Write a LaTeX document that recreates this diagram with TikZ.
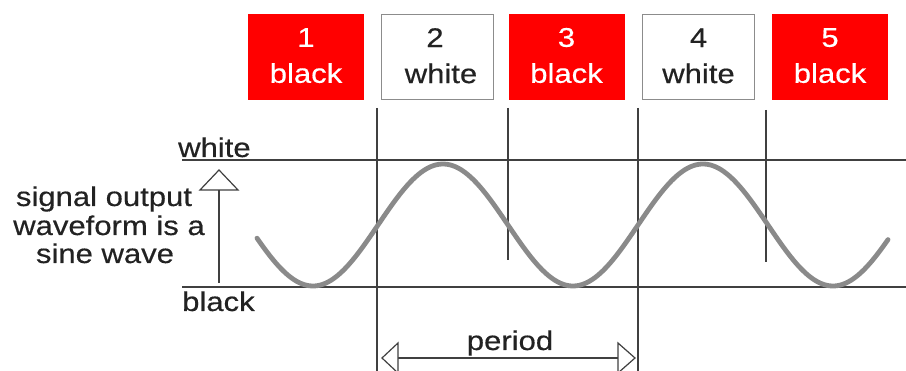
\documentclass[tikz,border=0pt]{standalone}
\usepackage{fontspec}
\setmainfont{Liberation Sans}[FakeStretch=1.15,FakeBold=0.4]
\definecolor{txt}{HTML}{222222}
\definecolor{boxred}{HTML}{FF0000}
\definecolor{wavegray}{HTML}{8A8A8A}
\begin{document}
\begin{tikzpicture}[x=1pt,y=-1pt,
  lbl/.style={inner sep=0pt,font=\fontsize{27}{32}\selectfont,text=txt},
  redbox/.style={draw=none,fill=boxred,minimum width=116pt,minimum height=86pt,inner sep=0pt},
  whitebox/.style={draw=black!45,line width=0.9pt,fill=white,minimum width=112pt,minimum height=85pt,inner sep=0pt},
  rlbl/.style={lbl,text=white,anchor=base},
  wlbl/.style={lbl,anchor=base},
  thin/.style={draw=black!75,line width=1.2pt},
  wave/.style={draw=wavegray,line width=4.8pt,line cap=round},
  openhead/.style={draw=black!75,line width=1.2pt,fill=white,line join=miter}
]
\useasboundingbox (0,0) rectangle (906,371);

% boxes
\node[redbox] (b1) at (306,57) {};
\node[whitebox] (b2) at (437,57) {};
\node[redbox] (b3) at (566.5,57) {};
\node[whitebox] (b4) at (698.5,57) {};
\node[redbox] (b5) at (830,57) {};

\node[rlbl] (b1n) at ([yshift=-33pt]b1.north) {1};
\node[rlbl] (b1w) at ([yshift=-69pt]b1.north) {black};
\node[wlbl] (b2n) at ([yshift=-33pt,xshift=-2pt]b2.north) {2};
\node[wlbl] (b2w) at ([yshift=-69pt,xshift=4pt]b2.north) {white};
\node[rlbl] (b3n) at ([yshift=-33pt]b3.north) {3};
\node[rlbl] (b3w) at ([yshift=-69pt]b3.north) {black};
\node[wlbl] (b4n) at ([yshift=-33pt]b4.north) {4};
\node[wlbl] (b4w) at ([yshift=-69pt]b4.north) {white};
\node[rlbl] (b5n) at ([yshift=-33pt]b5.north) {5};
\node[rlbl] (b5w) at ([yshift=-69pt]b5.north) {black};

% level lines
\coordinate (wl) at (182,160); \coordinate (wr) at (906,160);
\coordinate (kl) at (182,287); \coordinate (kr) at (906,287);
\draw[thin] (wl) -- (wr);
\draw[thin] (kl) -- (kr);
\node[wlbl,anchor=base west] (lw) at (178,157) {white};
\node[wlbl,anchor=base west] (lk) at (182,311) {black};

% vertical lines
\coordinate (v1t) at (377,108); \coordinate (v1b) at (377,371);
\coordinate (v2t) at (508,108); \coordinate (v2b) at (508,260);
\coordinate (v3t) at (638,108); \coordinate (v3b) at (638,371);
\coordinate (v4t) at (766,110); \coordinate (v4b) at (766,262);
\draw[thin] (v1t) -- (v1b);
\draw[thin] (v2t) -- (v2b);
\draw[thin] (v3t) -- (v3b);
\draw[thin] (v4t) -- (v4b);

% wave
\draw[wave] plot[domain=257:888,samples=240,smooth] (\x,{225-61*sin((\x-378)*1.384615)});

% up arrow
\coordinate (ua) at (219,283); \coordinate (ub) at (219,190);
\draw[thin] (ua) -- (ub);
\draw[openhead] (200,190) -- (219,170) -- (238,190) -- cycle;

% left text
\node[wlbl] (t1) at (104,206) {signal output};
\node[wlbl] (t2) at (109,235) {waveform is a};
\node[wlbl] (t3) at (105,263) {sine wave};

% period arrow
\coordinate (pa) at (398,358); \coordinate (pb) at (618,358);
\draw[thin] (pa) -- (pb);
\draw[openhead] (398,343) -- (382,358) -- (398,373) -- cycle;
\draw[openhead] (618,343) -- (635,358) -- (618,373) -- cycle;
\node[wlbl] (per) at (510,350) {period};
\end{tikzpicture}
\end{document}
